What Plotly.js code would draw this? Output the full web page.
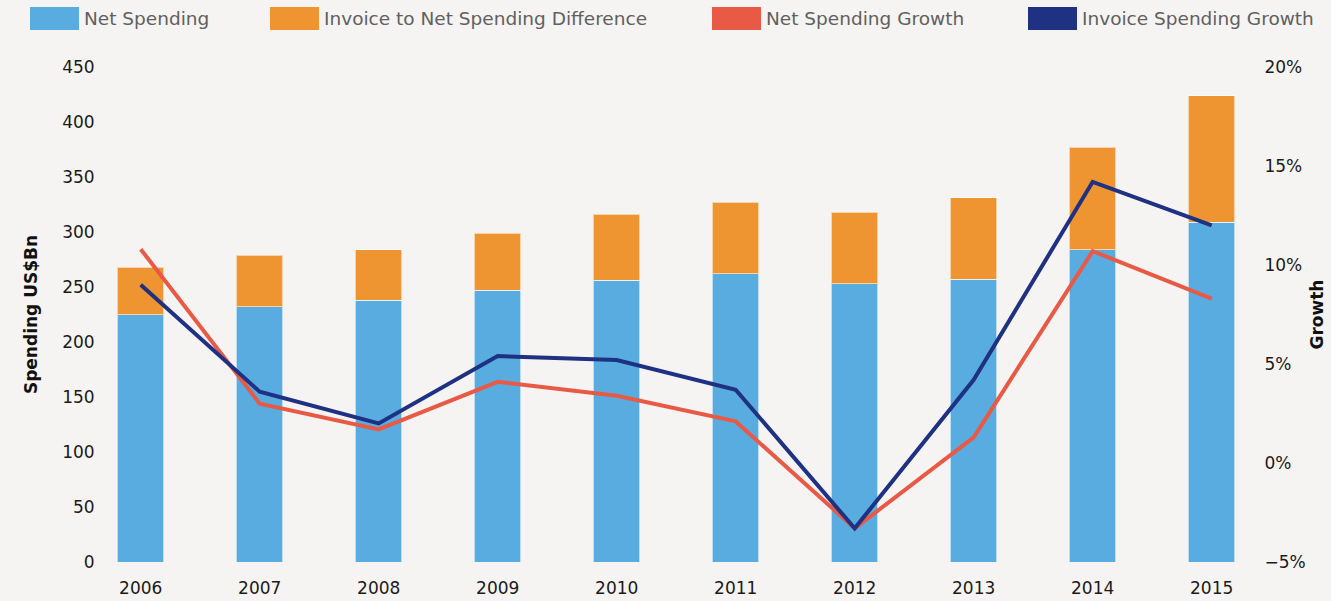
<!DOCTYPE html>
<html>
<head>
<meta charset="utf-8">
<script src="https://cdn.plot.ly/plotly-3.0.1.min.js"></script>
<style>
  html, body { margin: 0; padding: 0; background: #f6f4f2; }
  #chart { width: 1331px; height: 601px; }
</style>
</head>
<body>
<div id="chart"></div>
<script>
// ---- data ----
const years = ["2006", "2007", "2008", "2009", "2010", "2011", "2012", "2013", "2014", "2015"];
const netSpending = [225, 232, 238, 247, 256, 262, 253, 257, 284, 309];
const invoiceDifference = [43, 47, 46, 52, 60, 65, 65, 74, 93, 115];
const netSpendingGrowth = [10.8, 3.0, 1.7, 4.1, 3.4, 2.1, -3.3, 1.3, 10.7, 8.3];
const invoiceSpendingGrowth = [9.0, 3.6, 2.0, 5.4, 5.2, 3.7, -3.3, 4.2, 14.2, 12.0];
const seriesNames = ["Net Spending", "Invoice to Net Spending Difference", "Net Spending Growth", "Invoice Spending Growth"];
const seriesColors = ["#58ace0", "#ee9532", "#e85a46", "#1f3182"];
const leftTicks = [0, 50, 100, 150, 200, 250, 300, 350, 400, 450];
const rightTicks = [-5, 0, 5, 10, 15, 20];
const rightTickText = ["\u22125%", "0%", "5%", "10%", "15%", "20%"];

// ---- layout geometry ----
const W = 1331, H = 601;
const M = { l: 105, r: 86, t: 67, b: 39 };
const plotW = W - M.l - M.r, plotH = H - M.t - M.b;
const px2paperX = px => (px - M.l) / plotW;
const px2paperY = py => (H - M.b - py) / plotH;

const font = "'DejaVu Sans', 'Open Sans', sans-serif";

const traces = [
  {
    type: "bar", x: years, y: netSpending, name: seriesNames[0],
    marker: { color: seriesColors[0], line: { color: "rgba(255,255,255,0.6)", width: 1 } },
    width: 0.39, yaxis: "y", showlegend: false
  },
  {
    type: "bar", x: years, y: invoiceDifference, name: seriesNames[1],
    marker: { color: seriesColors[1], line: { color: "rgba(255,255,255,0.6)", width: 1 } },
    width: 0.39, yaxis: "y", showlegend: false
  },
  {
    type: "scatter", mode: "lines", x: years, y: netSpendingGrowth, name: seriesNames[2],
    line: { color: seriesColors[2], width: 4 }, yaxis: "y2", showlegend: false
  },
  {
    type: "scatter", mode: "lines", x: years, y: invoiceSpendingGrowth, name: seriesNames[3],
    line: { color: seriesColors[3], width: 4 }, yaxis: "y2", showlegend: false
  }
];

// custom legend: wide colour boxes + text
const legendBoxX = [30, 270, 712, 1028];
const shapes = [], annotations = [];
seriesNames.forEach((name, i) => {
  shapes.push({
    type: "rect", xref: "paper", yref: "paper",
    x0: px2paperX(legendBoxX[i]), x1: px2paperX(legendBoxX[i] + 49),
    y0: px2paperY(30), y1: px2paperY(7),
    fillcolor: seriesColors[i], line: { width: 0 }, layer: "above"
  });
  annotations.push({
    xref: "paper", yref: "paper", x: px2paperX(legendBoxX[i] + 52), y: px2paperY(18.5),
    xanchor: "left", yanchor: "middle", showarrow: false, text: name,
    font: { family: font, size: 18.5, color: "#606060" }
  });
});

const layout = {
  width: W, height: H,
  margin: M,
  paper_bgcolor: "#f6f4f2",
  plot_bgcolor: "rgba(0,0,0,0)",
  barmode: "stack",
  showlegend: false,
  font: { family: font, size: 17, color: "#222" },
  xaxis: {
    type: "category", range: [-0.3, 9.28],
    showgrid: false, zeroline: false, showline: false,
    ticks: "outside", ticklen: 11, tickcolor: "rgba(0,0,0,0)",
    tickfont: { family: font, size: 17, color: "#1a1a1a" }
  },
  yaxis: {
    range: [0, 450], tickvals: leftTicks,
    showgrid: false, zeroline: false, showline: false,
    ticks: "outside", ticklen: 6, tickcolor: "rgba(0,0,0,0)",
    tickfont: { family: font, size: 17, color: "#1a1a1a" },
    title: { text: "Spending US$Bn", standoff: 20, font: { family: font, size: 17, color: "#111", weight: "bold" } }
  },
  yaxis2: {
    overlaying: "y", side: "right",
    range: [-5, 20], tickvals: rightTicks, ticktext: rightTickText,
    showgrid: false, zeroline: false, showline: false,
    ticks: "outside", ticklen: 15, tickcolor: "rgba(0,0,0,0)",
    tickfont: { family: font, size: 17, color: "#1a1a1a" },
    title: { text: "Growth", standoff: 6, font: { family: font, size: 17, color: "#111", weight: "bold" } }
  },
  shapes: shapes,
  annotations: annotations
};

Plotly.newPlot("chart", traces, layout, { displayModeBar: false, staticPlot: true });
</script>
</body>
</html>
